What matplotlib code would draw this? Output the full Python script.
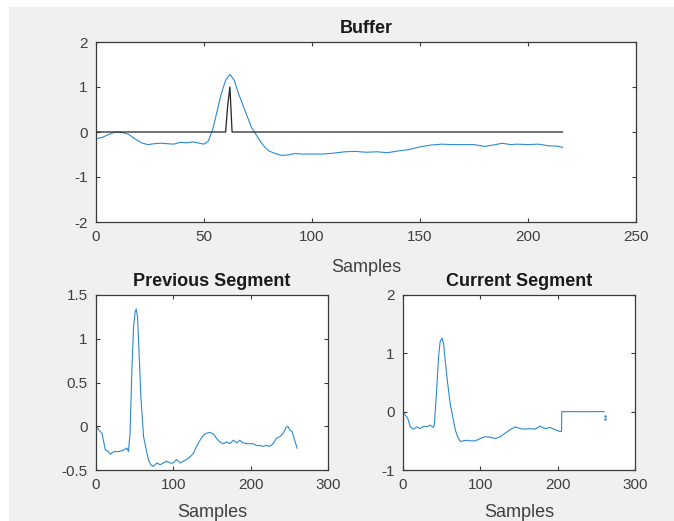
import matplotlib
matplotlib.use("Agg")
import matplotlib.pyplot as plt
from matplotlib.patches import Rectangle

# ---------------- data ----------------
buf_x = [0, 3, 6, 9, 12, 15, 18, 21, 24, 27, 30, 33, 36, 39, 42, 45, 48, 50, 52, 54,
         56, 58, 60, 62, 64, 66, 68, 70, 72, 74, 76, 78, 80, 83, 86, 89, 92, 95, 100,
         105, 110, 115, 120, 125, 130, 135, 140, 145, 150, 155, 160, 165, 170, 175,
         180, 185, 188, 192, 195, 200, 205, 210, 213, 216]
buf_y = [-0.15, -0.12, -0.05, 0.0, -0.01, -0.05, -0.15, -0.24, -0.28, -0.26, -0.25,
         -0.26, -0.27, -0.23, -0.24, -0.22, -0.25, -0.27, -0.2, 0.05, 0.45, 0.85, 1.15,
         1.28, 1.15, 0.85, 0.6, 0.35, 0.1, -0.05, -0.2, -0.33, -0.42, -0.48, -0.52,
         -0.51, -0.48, -0.49, -0.49, -0.49, -0.47, -0.44, -0.43, -0.45, -0.44, -0.46,
         -0.42, -0.39, -0.33, -0.29, -0.27, -0.28, -0.28, -0.28, -0.32, -0.28, -0.25,
         -0.28, -0.27, -0.28, -0.27, -0.31, -0.31, -0.34]
peak_x = [0, 60, 61, 62, 63, 216]
peak_y = [0, 0, 0.6, 1.0, 0, 0]

prev_x = [0, 3.4, 7.7, 10, 12, 16, 18.5, 23, 29, 36, 40, 42, 44, 46.4, 48.6, 50.7, 52,
          53.7, 55.4, 58, 61.5, 65, 68, 71, 74, 78.6, 83, 87, 91.5, 96, 100, 104, 109,
          113, 117, 121.6, 126, 130, 134.5, 139, 143, 147.4, 152, 156, 160, 164.6, 169,
          173, 177.5, 182, 186, 190, 194.7, 199, 203, 207.6, 212, 216, 220, 224.7, 229,
          233, 237.6, 242, 246, 248, 250.5, 253.5, 257, 260]
prev_y = [0.01, -0.04, -0.08, -0.18, -0.27, -0.29, -0.32, -0.29, -0.29, -0.27, -0.25,
          -0.29, -0.08, 0.64, 1.14, 1.31, 1.34, 1.25, 0.91, 0.34, -0.12, -0.27, -0.39,
          -0.44, -0.46, -0.42, -0.44, -0.42, -0.40, -0.42, -0.42, -0.38, -0.42, -0.40,
          -0.38, -0.35, -0.31, -0.23, -0.16, -0.10, -0.08, -0.07, -0.09, -0.14, -0.18,
          -0.20, -0.18, -0.20, -0.16, -0.19, -0.16, -0.19, -0.20, -0.20, -0.20, -0.22,
          -0.22, -0.23, -0.22, -0.23, -0.20, -0.14, -0.12, -0.08, -0.01, 0.0, -0.04,
          -0.06, -0.16, -0.25]

cur_x = [0, 3, 6, 9.5, 13, 18, 22, 27, 31, 35, 39, 40.5, 43, 46, 48, 50.4, 52.5, 54.7,
         57.7, 61, 64.6, 67.6, 70.6, 74, 78, 82.6, 87, 93.4, 100, 106, 113, 119, 125.7,
         132, 138.6, 145, 151.5, 158, 164, 171, 177, 184, 190, 197, 203, 205, 205.3, 260]
cur_y = [0, -0.06, -0.11, -0.26, -0.30, -0.26, -0.29, -0.25, -0.26, -0.23, -0.27,
         -0.23, 0.26, 0.94, 1.2, 1.26, 1.17, 0.86, 0.49, 0.14, -0.11, -0.31, -0.43,
         -0.51, -0.50, -0.49, -0.50, -0.50, -0.46, -0.43, -0.44, -0.46, -0.43, -0.37,
         -0.31, -0.26, -0.29, -0.30, -0.29, -0.30, -0.25, -0.29, -0.27, -0.31, -0.34,
         -0.34, 0.0, 0.0]
cur_dots_x = [261, 261]
cur_dots_y = [-0.07, -0.13]

top_xticks = [0, 50, 100, 150, 200, 250]
top_yticks = [-2, -1, 0, 1, 2]
bot_xticks = [0, 100, 200, 300]
prev_yticks = [-0.5, 0, 0.5, 1, 1.5]
prev_yticklabels = ["-0.5", "0", "0.5", "1", "1.5"]
cur_yticks = [-1, 0, 1, 2]

# ---------------- style ----------------
plt.rcParams['font.family'] = ['Liberation Sans', 'DejaVu Sans']
plt.rcParams['axes.unicode_minus'] = False
BLUE = '#2b8ad3'
EDGE = '#3a3a3a'
TXT = '#404040'

W, H = 674, 521
fig = plt.figure(figsize=(W / 100, H / 100), dpi=100, facecolor='white')
fig.patches.append(Rectangle((9 / W, 0), 1, (H - 7) / H, transform=fig.transFigure,
                             facecolor='#f0f0f0', edgecolor='none', zorder=-10))


def px_axes(left, top, right, bottom):
    return fig.add_axes([left / W, (H - bottom) / H, (right - left) / W, (bottom - top) / H])


def style(ax, title, label_y):
    ax.set_facecolor('white')
    for s in ax.spines.values():
        s.set_color(EDGE)
        s.set_linewidth(0.9)
    ax.tick_params(direction='in', length=3, width=0.8, colors=EDGE, labelcolor=TXT,
                   labelsize=11, top=True, right=True)
    ax.tick_params(axis='x', pad=6)
    ax.tick_params(axis='y', pad=6)
    ax.set_title(title, fontsize=13, fontweight='bold', color='#1a1a1a', pad=6.5)
    ax.set_xlabel('Samples', fontsize=13, color=TXT)
    ax.xaxis.set_label_coords(0.5, label_y)


ax1 = px_axes(96, 42, 636, 222)
ax1.plot(buf_x, buf_y, color=BLUE, lw=0.8)
ax1.plot(peak_x, peak_y, color='#222222', lw=0.9)
ax1.set_xlim(0, 250)
ax1.set_ylim(-2, 2)
ax1.set_xticks(top_xticks)
ax1.set_yticks(top_yticks)
style(ax1, 'Buffer', -0.205)

ax2 = px_axes(96, 295, 328, 470)
ax2.plot(prev_x, prev_y, color=BLUE, lw=0.8)
ax2.set_xlim(0, 300)
ax2.set_ylim(-0.5, 1.5)
ax2.set_xticks(bot_xticks)
ax2.set_yticks(prev_yticks)
ax2.set_yticklabels(prev_yticklabels)
style(ax2, 'Previous Segment', -0.195)

ax3 = px_axes(403, 295, 635, 470)
ax3.plot(cur_x, cur_y, color=BLUE, lw=0.8)
ax3.plot(cur_dots_x, cur_dots_y, linestyle='none', marker='.', markersize=1.5, color=BLUE)
ax3.set_xlim(0, 300)
ax3.set_ylim(-1, 2)
ax3.set_xticks(bot_xticks)
ax3.set_yticks(cur_yticks)
style(ax3, 'Current Segment', -0.195)

fig.savefig('out.png', dpi=100, facecolor=fig.get_facecolor())
